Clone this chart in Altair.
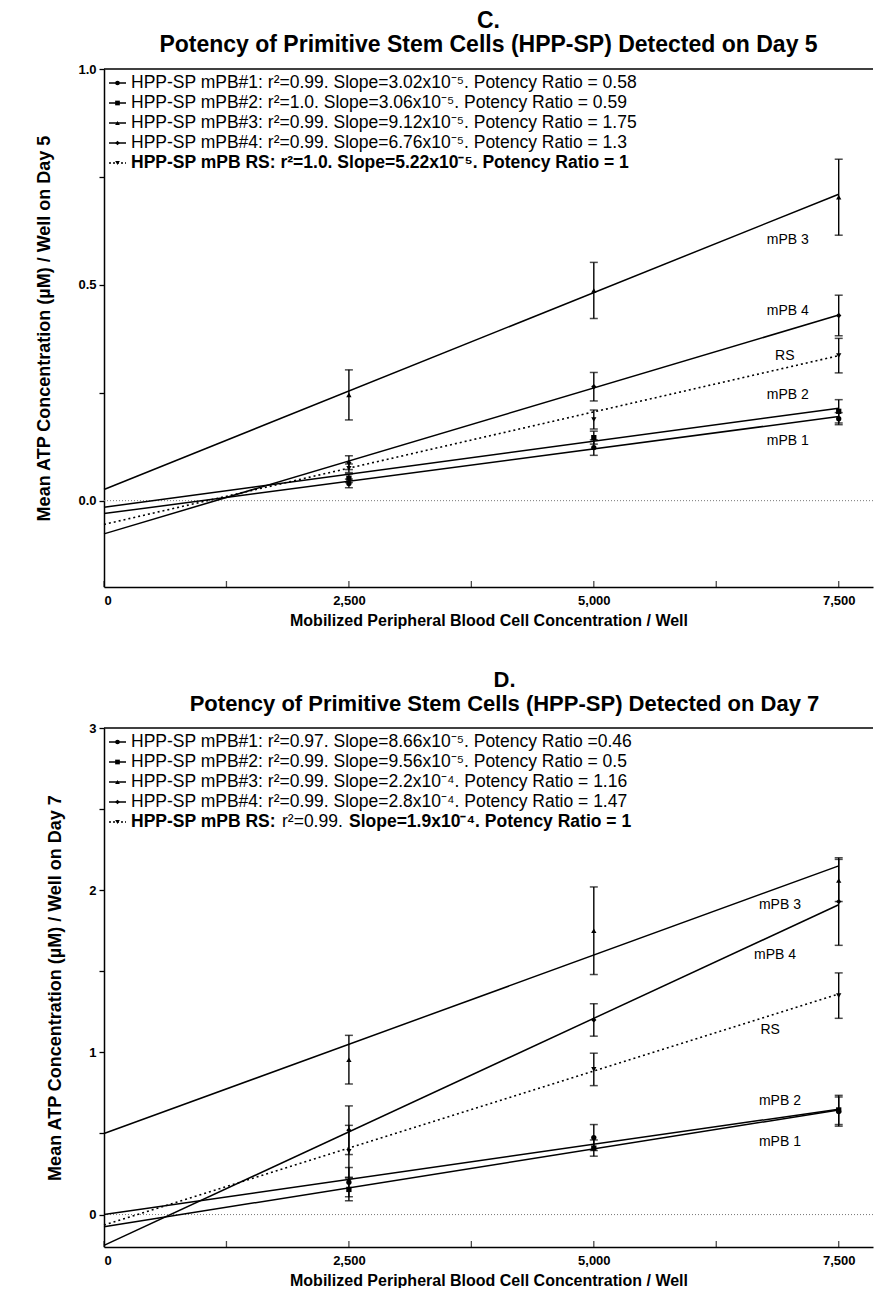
import altair as alt
import pandas as pd

FONT = "Liberation Sans"

# ---------------- shared values ----------------
X_LEVELS = [2500, 5000, 7500]
SERIES = ["mPB1", "mPB2", "mPB3", "mPB4", "RS"]
SHAPES = ["circle", "square", "triangle-up", "diamond", "triangle-down"]
FIT_X = [0, 7500]
X_TICKS = [0, 1250, 2500, 3750, 5000, 6250, 7500]
X_MAX = 7850

# ---------------- panel C (day 5) ----------------
C_MEAN_MPB1 = [0.040, 0.123, 0.190]
C_MEAN_MPB2 = [0.052, 0.146, 0.207]
C_MEAN_MPB3 = [0.245, 0.487, 0.703]
C_MEAN_MPB4 = [0.088, 0.264, 0.429]
C_MEAN_RS = [0.075, 0.188, 0.336]
C_ERR_MPB1 = [0.010, 0.018, 0.014]
C_ERR_MPB2 = [0.010, 0.015, 0.027]
C_ERR_MPB3 = [0.058, 0.065, 0.088]
C_ERR_MPB4 = [0.016, 0.033, 0.047]
C_ERR_RS = [0.010, 0.022, 0.040]
C_FIT_MPB1 = [-0.030, 0.195]
C_FIT_MPB2 = [-0.015, 0.214]
C_FIT_MPB3 = [0.026, 0.710]
C_FIT_MPB4 = [-0.077, 0.430]
C_FIT_RS = [-0.055, 0.336]
C_LABELS = ["mPB 1", "mPB 2", "mPB 3", "mPB 4", "RS"]
C_LABEL_X = [6980, 6980, 6980, 6980, 6950]
C_LABEL_Y = [0.139, 0.244, 0.603, 0.440, 0.334]
C_LEGEND = [
    "HPP-SP mPB#1: r\u00b2=0.99. Slope=3.02x10\u207b\u2075. Potency Ratio = 0.58",
    "HPP-SP mPB#2: r\u00b2=1.0. Slope=3.06x10\u207b\u2075. Potency Ratio = 0.59",
    "HPP-SP mPB#3: r\u00b2=0.99. Slope=9.12x10\u207b\u2075. Potency Ratio = 1.75",
    "HPP-SP mPB#4: r\u00b2=0.99. Slope=6.76x10\u207b\u2075. Potency Ratio = 1.3",
]
C_LEGEND_RS = [("HPP-SP mPB RS: r\u00b2=1.0. Slope=5.22x10\u207b\u2075. Potency Ratio = 1", "bold", 0)]
C_TITLE = ["C.", "Potency of Primitive Stem Cells (HPP-SP) Detected on Day 5"]
C_YTITLE = "Mean ATP Concentration (\u00b5M) / Well on Day 5"
C_YDOMAIN = [-0.2, 1.0]
C_YTICKS = [0, 0.25, 0.5, 0.75, 1.0]

# ---------------- panel D (day 7) ----------------
D_MEAN_MPB1 = [0.200, 0.475, 0.635]
D_MEAN_MPB2 = [0.155, 0.410, 0.645]
D_MEAN_MPB3 = [0.955, 1.750, 2.060]
D_MEAN_MPB4 = [0.520, 1.200, 1.930]
D_MEAN_RS = [0.390, 0.895, 1.350]
D_ERR_MPB1 = [0.09, 0.08, 0.09]
D_ERR_MPB2 = [0.07, 0.05, 0.09]
D_ERR_MPB3 = [0.15, 0.27, 0.13]
D_ERR_MPB4 = [0.15, 0.10, 0.27]
D_ERR_RS = [0.16, 0.10, 0.14]
D_FIT_MPB1 = [0.000, 0.650]
D_FIT_MPB2 = [-0.075, 0.645]
D_FIT_MPB3 = [0.500, 2.150]
D_FIT_MPB4 = [-0.190, 1.910]
D_FIT_RS = [-0.065, 1.360]
D_LABELS = ["mPB 1", "mPB 2", "mPB 3", "mPB 4", "RS"]
D_LABEL_X = [6900, 6900, 6900, 6850, 6800]
D_LABEL_Y = [0.45, 0.70, 1.91, 1.60, 1.14]
D_LEGEND = [
    "HPP-SP mPB#1: r\u00b2=0.97. Slope=8.66x10\u207b\u2075. Potency Ratio =0.46",
    "HPP-SP mPB#2: r\u00b2=0.99. Slope=9.56x10\u207b\u2075. Potency Ratio = 0.5",
    "HPP-SP mPB#3: r\u00b2=0.99. Slope=2.2x10\u207b\u2074. Potency Ratio = 1.16",
    "HPP-SP mPB#4: r\u00b2=0.99. Slope=2.8x10\u207b\u2074. Potency Ratio = 1.47",
]
D_LEGEND_RS = [
    ("HPP-SP mPB RS:", "bold", 0),
    ("r\u00b2=0.99.", "normal", 151),
    ("Slope=1.9x10\u207b\u2074. Potency Ratio = 1", "bold", 218),
]
D_TITLE = ["D.", "Potency of Primitive Stem Cells (HPP-SP) Detected on Day 7"]
D_YTITLE = "Mean ATP Concentration (\u00b5M) / Well on Day 7"
D_YDOMAIN = [-0.2, 3.0]
D_YTICKS = [0, 0.5, 1, 1.5, 2, 2.5, 3]

LEGEND_ROW_Y = [14, 34, 54, 74, 94]
LEGEND_FONT = 17.5


def panel(means, errs, fits, labels, label_x, label_y, legend, legend_rs,
          title, ytitle, ydomain, yticks, ymajor_step, yfmt, title_dx, title_size, height):
    rows = []
    for s, m, e in zip(SERIES, means, errs):
        for x, mv, ev in zip(X_LEVELS, m, e):
            rows.append({"series": s, "x": x, "y": mv, "lo": mv - ev, "hi": mv + ev})
    pts = pd.DataFrame(rows)
    fit_rows = []
    for s, f in zip(SERIES, fits):
        for x, v in zip(FIT_X, f):
            fit_rows.append({"series": s, "x": x, "y": v})
    fitdf = pd.DataFrame(fit_rows)
    labdf = pd.DataFrame({"t": labels, "x": label_x, "y": label_y})

    xs = alt.Scale(domain=[0, X_MAX], nice=False, zero=False)
    ys = alt.Scale(domain=ydomain, nice=False, zero=False)
    xaxis = alt.Axis(
        values=X_TICKS, title="Mobilized Peripheral Blood Cell Concentration / Well",
        labelExpr="datum.value % 2500 == 0 ? format(datum.value, ',') : ''",
        grid=False, ticks=False, labelPadding=7, titlePadding=5,
    )
    yaxis = alt.Axis(
        values=yticks, title=ytitle,
        labelExpr=f"abs(datum.value / {ymajor_step} - round(datum.value / {ymajor_step})) < 0.001 ? format(datum.value, '{yfmt}') : ''",
        grid=False, tickSize=5, labelPadding=3, titlePadding=24,
    )
    X = alt.X("x:Q", scale=xs, axis=xaxis)
    Y = alt.Y("y:Q", scale=ys, axis=yaxis)

    zero = alt.Chart(pd.DataFrame({"y": [0.0]})).mark_rule(
        color="#777", strokeDash=[1, 2], strokeWidth=1
    ).encode(y=alt.Y("y:Q", scale=ys, axis=yaxis))
    top = alt.Chart(pd.DataFrame({"y": [ydomain[1]]})).mark_rule(
        color="black", strokeWidth=1.5
    ).encode(y=alt.Y("y:Q", scale=ys, axis=yaxis))
    xticks_in = alt.Chart(pd.DataFrame({"x": X_TICKS})).mark_tick(
        color="black", orient="vertical", size=6, thickness=1.3, yOffset=-3
    ).encode(x=X, y=alt.datum(ydomain[0]))

    solid = alt.Chart(fitdf[fitdf.series != "RS"]).mark_line(
        color="black", strokeWidth=1.5
    ).encode(x=X, y=Y, detail="series:N")
    dotted = alt.Chart(fitdf[fitdf.series == "RS"]).mark_line(
        color="black", strokeWidth=1.6, strokeDash=[2, 3]
    ).encode(x=X, y=Y)

    bars = alt.Chart(pts).mark_rule(color="black", strokeWidth=1.4).encode(
        x=X, y=alt.Y("lo:Q", scale=ys, axis=yaxis), y2="hi:Q")
    cap_lo = alt.Chart(pts).mark_tick(color="black", orient="horizontal", size=8, thickness=1.5).encode(
        x=X, y=alt.Y("lo:Q", scale=ys, axis=yaxis))
    cap_hi = alt.Chart(pts).mark_tick(color="black", orient="horizontal", size=8, thickness=1.5).encode(
        x=X, y=alt.Y("hi:Q", scale=ys, axis=yaxis))
    points = alt.Chart(pts).mark_point(filled=True, color="black", size=28, opacity=1).encode(
        x=X, y=Y,
        shape=alt.Shape("series:N", scale=alt.Scale(domain=SERIES, range=SHAPES), legend=None),
    )
    labs = alt.Chart(labdf).mark_text(font=FONT, fontSize=14, color="black").encode(
        x=X, y=Y, text="t:N")

    layers = [zero, top, xticks_in, solid, dotted, bars, cap_lo, cap_hi, points, labs]

    dummy = pd.DataFrame({"k": [0]})
    for i, yy in enumerate(LEGEND_ROW_Y):
        is_rs = i == 4
        line_kw = {"strokeDash": [2, 2]} if is_rs else {}
        layers.append(alt.Chart(dummy).mark_rule(color="black", strokeWidth=1.5, **line_kw).encode(
            x=alt.value(5), x2=alt.value(22), y=alt.value(yy)))
        layers.append(alt.Chart(dummy).mark_point(filled=True, color="black", size=22, shape=SHAPES[i], opacity=1).encode(
            x=alt.value(13.5), y=alt.value(yy)))
        if not is_rs:
            layers.append(alt.Chart(dummy).mark_text(
                font=FONT, fontSize=LEGEND_FONT, align="left", baseline="middle", color="black").encode(
                x=alt.value(27), y=alt.value(yy), text=alt.value(legend[i])))
        else:
            for txt, wt, dx in legend_rs:
                layers.append(alt.Chart(dummy).mark_text(
                    font=FONT, fontSize=LEGEND_FONT, fontWeight=wt, align="left", baseline="middle", color="black").encode(
                    x=alt.value(27 + dx), y=alt.value(yy), text=alt.value(txt)))

    return alt.layer(*layers).properties(
        width=769, height=height,
        title=alt.TitleParams(text=title, fontSize=title_size, fontWeight="bold", font=FONT,
                              anchor="middle", frame="group", offset=6, lineHeight=24, dx=title_dx),
    )


c = panel(
    [C_MEAN_MPB1, C_MEAN_MPB2, C_MEAN_MPB3, C_MEAN_MPB4, C_MEAN_RS],
    [C_ERR_MPB1, C_ERR_MPB2, C_ERR_MPB3, C_ERR_MPB4, C_ERR_RS],
    [C_FIT_MPB1, C_FIT_MPB2, C_FIT_MPB3, C_FIT_MPB4, C_FIT_RS],
    C_LABELS, C_LABEL_X, C_LABEL_Y, C_LEGEND, C_LEGEND_RS,
    C_TITLE, C_YTITLE, C_YDOMAIN, C_YTICKS, 0.5, ".1f", 0, 23, 518,
)
d = panel(
    [D_MEAN_MPB1, D_MEAN_MPB2, D_MEAN_MPB3, D_MEAN_MPB4, D_MEAN_RS],
    [D_ERR_MPB1, D_ERR_MPB2, D_ERR_MPB3, D_ERR_MPB4, D_ERR_RS],
    [D_FIT_MPB1, D_FIT_MPB2, D_FIT_MPB3, D_FIT_MPB4, D_FIT_RS],
    D_LABELS, D_LABEL_X, D_LABEL_Y, D_LEGEND, D_LEGEND_RS,
    D_TITLE, D_YTITLE, D_YDOMAIN, D_YTICKS, 1, "d", 16, 22, 519,
)

chart = alt.vconcat(c, d, spacing=41).properties(
    padding={"left": 27, "top": 2, "right": 0, "bottom": 0}
).configure_view(stroke=None).configure_axis(
    domainColor="black", domainWidth=1.5, tickColor="black", tickWidth=1.3,
    labelFont=FONT, labelFontSize=13, labelFontWeight="bold", labelColor="black",
    titleFont=FONT, titleFontSize=16, titleFontWeight="bold", titleColor="black",
).configure_axisY(titleFontSize=18)

chart.save("out.html", embed_options={"renderer": "svg", "actions": False})
